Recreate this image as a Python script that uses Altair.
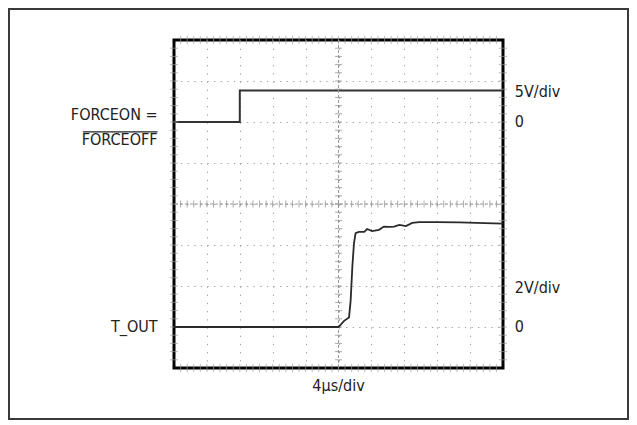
import altair as alt
import pandas as pd
import numpy as np

# ---- data (units: scope divisions; x 0..10, y 0..8) ----
force_t = [0.0, 2.0, 2.0, 10.0]
force_v = [6.0, 6.0, 6.77, 6.77]

tout_t = [0.0, 5.0, 5.17, 5.32, 5.37, 5.42, 5.47, 5.52, 5.62, 5.78, 5.87, 6.02,
          6.23, 6.38, 6.53, 6.69, 6.85, 7.05, 7.24, 7.45, 7.97, 8.67, 9.19, 10.0]
tout_v = [1.0, 1.0, 1.15, 1.23, 1.65, 2.46, 3.04, 3.29, 3.32, 3.32, 3.39, 3.34,
          3.37, 3.45, 3.44, 3.45, 3.49, 3.46, 3.54, 3.56, 3.56, 3.55, 3.54, 3.52]

left_labels = ["FORCEON =", "FORCEOFF", "T_OUT"]
left_label_y = [6.18, 5.55, 1.0]
right_labels = ["5V/div", "0", "2V/div", "0"]
right_label_y = [6.73, 6.0, 1.96, 1.0]
x_label = "4\u03bcs/div"

FONT = "Liberation Sans Narrow, DejaVu Sans Condensed, Roboto, sans-serif"
TXT = "#222222"

xs = alt.Scale(domain=[0, 10], nice=False, zero=False)
ys = alt.Scale(domain=[0, 8], nice=False, zero=False)

base_x = alt.X("t:Q", scale=xs,
               axis=alt.Axis(values=list(range(1, 10)), grid=True, gridDash=[1.2, 7.0],
                             gridColor="#9a9a9a", gridWidth=1, labels=False, ticks=False,
                             domain=False, title=None))
base_y = alt.Y("v:Q", scale=ys,
               axis=alt.Axis(values=list(range(1, 8)), grid=True, gridDash=[1.2, 5.4],
                             gridColor="#9a9a9a", gridWidth=1, labels=False, ticks=False,
                             domain=False, title=None))

force_df = pd.DataFrame({"t": force_t, "v": force_v, "o": range(len(force_t))})
tout_df = pd.DataFrame({"t": tout_t, "v": tout_v, "o": range(len(tout_t))})

force_line = alt.Chart(force_df).mark_line(color="#333333", strokeWidth=2).encode(
    x=base_x, y=base_y, order="o:Q")
tout_line = alt.Chart(tout_df).mark_line(color="#2a2a2a", strokeWidth=1.8).encode(
    x=alt.X("t:Q", scale=xs), y=alt.Y("v:Q", scale=ys), order="o:Q")

# center crosshair
hline = alt.Chart(pd.DataFrame({"v": [4.0]})).mark_rule(
    color="#9a9a9a", strokeWidth=1, strokeDash=[3, 2]).encode(y=alt.Y("v:Q", scale=ys))
vline = alt.Chart(pd.DataFrame({"t": [5.0]})).mark_rule(
    color="#9a9a9a", strokeWidth=1, strokeDash=[3, 2]).encode(x=alt.X("t:Q", scale=xs))

minor_x = np.round(np.arange(0.2, 10.0, 0.2), 2)
minor_y = np.round(np.arange(0.2, 8.0, 0.2), 2)

hticks = alt.Chart(pd.DataFrame({"t": minor_x, "v": 4.0})).mark_tick(
    orient="vertical", size=7, thickness=1, color="#888888").encode(
    x=alt.X("t:Q", scale=xs), y=alt.Y("v:Q", scale=ys))
vticks = alt.Chart(pd.DataFrame({"t": 5.0, "v": minor_y})).mark_tick(
    orient="horizontal", size=7, thickness=1, color="#888888").encode(
    x=alt.X("t:Q", scale=xs), y=alt.Y("v:Q", scale=ys))

edge_x = pd.concat([pd.DataFrame({"t": minor_x, "v": 8.0}), pd.DataFrame({"t": minor_x, "v": 0.0})])
edge_y = pd.concat([pd.DataFrame({"t": 0.0, "v": minor_y}), pd.DataFrame({"t": 10.0, "v": minor_y})])
eticks_x = alt.Chart(edge_x).mark_tick(orient="vertical", size=8, thickness=1, color="#9a9a9a").encode(
    x=alt.X("t:Q", scale=xs), y=alt.Y("v:Q", scale=ys))
eticks_y = alt.Chart(edge_y).mark_tick(orient="horizontal", size=8, thickness=1, color="#9a9a9a").encode(
    x=alt.X("t:Q", scale=xs), y=alt.Y("v:Q", scale=ys))

# labels
left_df = pd.DataFrame({"label": left_labels, "v": left_label_y, "t": -0.5})
left_text = alt.Chart(left_df).mark_text(align="right", baseline="middle", font=FONT,
                                         fontSize=16, color=TXT).encode(
    x=alt.X("t:Q", scale=xs), y=alt.Y("v:Q", scale=ys), text="label:N")

overbar = alt.Chart(pd.DataFrame({"t": [-2.77], "t2": [-0.5], "v": [5.76]})).mark_rule(
    color=TXT, strokeWidth=1.2).encode(
    x=alt.X("t:Q", scale=xs), x2="t2:Q", y=alt.Y("v:Q", scale=ys))

right_df = pd.DataFrame({"label": right_labels, "v": right_label_y, "t": 10.36})
right_text = alt.Chart(right_df).mark_text(align="left", baseline="middle", font=FONT,
                                           fontSize=16, color=TXT).encode(
    x=alt.X("t:Q", scale=xs), y=alt.Y("v:Q", scale=ys), text="label:N")

bottom_text = alt.Chart(pd.DataFrame({"label": [x_label], "t": [5.0], "v": [-0.43]})).mark_text(
    align="center", baseline="middle", font=FONT, fontSize=16, color=TXT).encode(
    x=alt.X("t:Q", scale=xs), y=alt.Y("v:Q", scale=ys), text="label:N")

border = alt.Chart(pd.DataFrame({"a": [0]})).mark_rect(
    filled=False, stroke="#3a3a3a", strokeWidth=2).encode(
    x=alt.value(-165), x2=alt.value(454), y=alt.value(-31), y2=alt.value(379))

chart = alt.layer(
    force_line, hline, vline, hticks, vticks, eticks_x, eticks_y, tout_line,
    left_text, overbar, right_text, bottom_text, border
).properties(
    width=329, height=328,
    padding={"left": 166, "top": 32, "right": 126, "bottom": 52},
    autosize=alt.AutoSizeParams(type="none"),
    background="white",
).configure_view(stroke="black", strokeWidth=3)

chart.save("out.html", embed_options={"renderer": "svg", "actions": False})
